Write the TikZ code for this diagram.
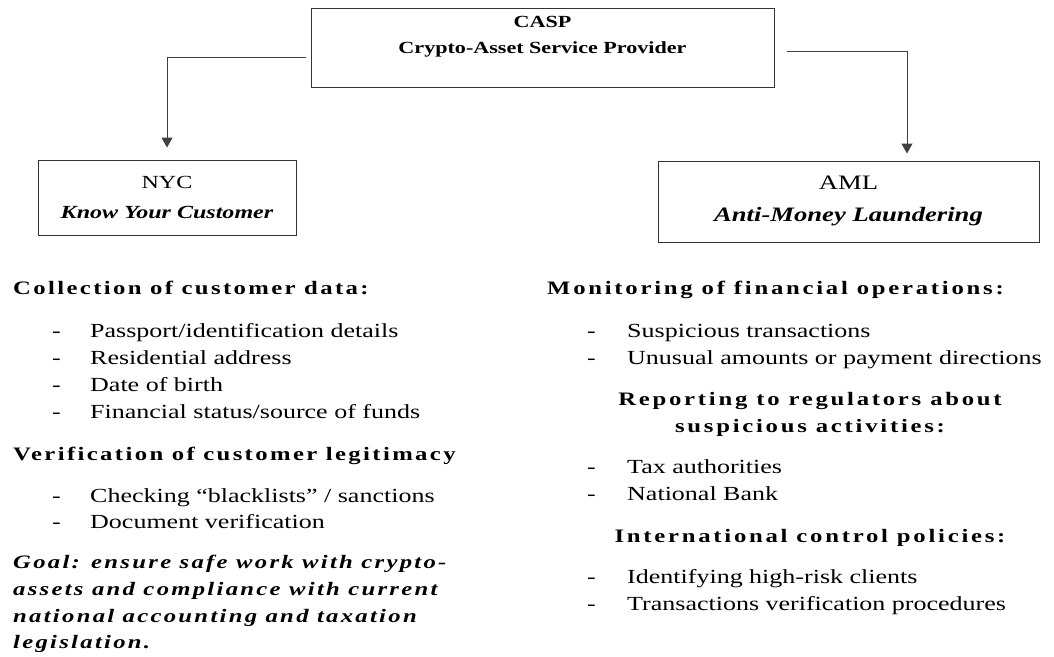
\documentclass[tikz,border=0pt]{standalone}
\usepackage{fontspec}
\setmainfont[FakeStretch=1.3]{Liberation Serif}
\newfontfamily\hdfontL[FakeStretch=1.3,LetterSpace=12.5]{Liberation Serif}
\newfontfamily\hdfontR[FakeStretch=1.3,LetterSpace=14.5]{Liberation Serif}
\newfontfamily\goalfont[FakeStretch=1.3,LetterSpace=12]{Liberation Serif}
\usetikzlibrary{arrows.meta}
\tikzset{
  box/.style={draw=black!80, line width=1pt, inner sep=0pt},
  conn/.style={draw=black!75, line width=1pt, -{Triangle[length=10pt,width=11pt]}},
  txt/.style={inner sep=0pt, anchor=base west, font=\fontsize{20}{27}\selectfont},
  dashmark/.style={inner sep=0pt, anchor=base west, font=\fontsize{20}{27}\selectfont},
  head/.style={inner sep=0pt, anchor=base west, font=\hdfontL\bfseries\fontsize{19}{27}\selectfont},
  headr/.style={inner sep=0pt, anchor=base west, font=\hdfontR\bfseries\fontsize{19}{27}\selectfont},
  headc/.style={inner sep=0pt, anchor=base, font=\hdfontR\bfseries\fontsize{19}{27}\selectfont},
  goal/.style={inner sep=0pt, anchor=base west, font=\goalfont\bfseries\itshape\fontsize{19}{27}\selectfont},
  boxtxt/.style={inner sep=0pt, anchor=base}
}
\begin{document}
\begin{tikzpicture}[x=1pt,y=-1pt]
\useasboundingbox[fill=white] (0,0) rectangle (1054,656);

% boxes
\node[box, minimum width=463pt, minimum height=79pt] (casp) at (542.5,47.5) {};
\node[box, minimum width=258pt, minimum height=75pt] (nyc) at (167,197.5) {};
\node[box, minimum width=381pt, minimum height=81pt] (aml) at (848.5,201.5) {};

\node[boxtxt, font=\bfseries\fontsize{17}{20}\selectfont] (caspa) at (542.5,27) {CASP};
\node[boxtxt, font=\bfseries\fontsize{17}{20}\selectfont] (caspb) at (542.5,53) {Crypto-Asset Service Provider};
\node[boxtxt, font=\fontsize{18.5}{20}\selectfont] (nyca) at (167,188) {NYC};
\node[boxtxt, font=\bfseries\itshape\fontsize{18.5}{20}\selectfont] (nycb) at (167,218) {Know Your Customer};
\node[boxtxt, font=\fontsize{20.5}{20}\selectfont] (amla) at (848.5,189) {AML};
\node[boxtxt, font=\bfseries\itshape\fontsize{20.5}{20}\selectfont] (amlb) at (848.5,221) {Anti-Money Laundering};

% connectors
\draw[conn] ([xshift=-5pt,yshift=-9.5pt]casp.west) -| ([yshift=12pt]nyc.north);
\draw[conn] ([xshift=12pt,yshift=-3.5pt]casp.east) -| ([xshift=58.5pt,yshift=7pt]aml.north);

% left column
\node[head] (h1) at (13,294) {Collection of customer data:};
\foreach \y/\t [count=\i] in {337/{Passport/identification details},364/{Residential address},391/{Date of birth},418/{Financial status/source of funds}}{
  \node[dashmark] (ld\i) at (52,\y) {-};
  \node[txt] (lt\i) at (90,\y) {\t};
}
\node[head] (h2) at (13,460) {Verification of customer legitimacy};
\foreach \y/\t [count=\i] in {502/{Checking “blacklists” / sanctions},528/{Document verification}}{
  \node[dashmark] (vd\i) at (52,\y) {-};
  \node[txt] (vt\i) at (90,\y) {\t};
}
\node[goal] (g1) at (13,568) {Goal: ensure safe work with crypto-};
\node[goal] (g2) at (13,595) {assets and compliance with current};
\node[goal] (g3) at (13,622) {national accounting and taxation};
\node[goal] (g4) at (13,648) {legislation.};

% right column
\node[headr] (h3) at (547,294) {Monitoring of financial operations:};
\foreach \y/\t [count=\i] in {337/{Suspicious transactions},364/{Unusual amounts or payment directions}}{
  \node[dashmark] (md\i) at (587,\y) {-};
  \node[txt] (mt\i) at (627,\y) {\t};
}
\node[headc] (h4) at (810,405) {Reporting to regulators about};
\node[headc] (h5) at (810,432) {suspicious activities:};
\foreach \y/\t [count=\i] in {473/{Tax authorities},500/{National Bank}}{
  \node[dashmark] (rd\i) at (587,\y) {-};
  \node[txt] (rt\i) at (627,\y) {\t};
}
\node[headc] (h6) at (810,542) {International control policies:};
\foreach \y/\t [count=\i] in {583/{Identifying high-risk clients},610/{Transactions verification procedures}}{
  \node[dashmark] (id\i) at (587,\y) {-};
  \node[txt] (it\i) at (627,\y) {\t};
}
\end{tikzpicture}
\end{document}
